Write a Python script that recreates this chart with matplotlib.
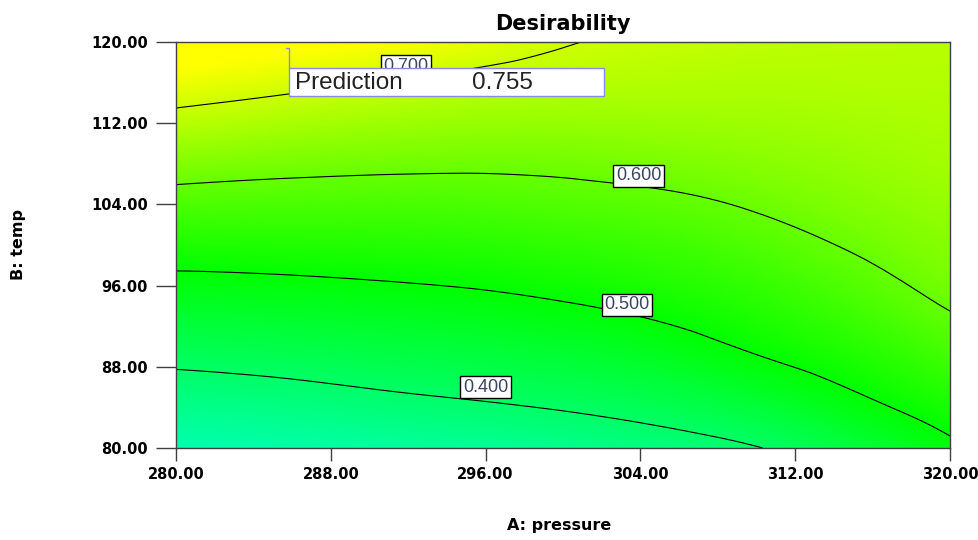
import numpy as np
import matplotlib
matplotlib.use('Agg')
import matplotlib.pyplot as plt
import matplotlib.tri as mtri
from matplotlib.colors import LinearSegmentedColormap
from matplotlib.patches import Rectangle

# A: pressure (columns) and B: temp (rows)
pressure = [280, 285, 290, 295, 300, 305, 310, 315, 320]
temp = [80, 85, 90, 95, 100, 105, 110, 115, 120]

# desirability, one list per temp row
d_80 = [0.330, 0.335, 0.343, 0.352, 0.363, 0.378, 0.398, 0.440, 0.490]
d_85 = [0.374, 0.381, 0.392, 0.402, 0.413, 0.429, 0.456, 0.494, 0.532]
d_90 = [0.422, 0.429, 0.438, 0.447, 0.459, 0.478, 0.507, 0.536, 0.572]
d_95 = [0.473, 0.478, 0.485, 0.493, 0.505, 0.521, 0.543, 0.573, 0.610]
d_100 = [0.529, 0.530, 0.533, 0.537, 0.546, 0.558, 0.578, 0.605, 0.632]
d_105 = [0.588, 0.583, 0.581, 0.581, 0.587, 0.596, 0.612, 0.632, 0.650]
d_110 = [0.654, 0.642, 0.633, 0.628, 0.628, 0.635, 0.643, 0.653, 0.663]
d_115 = [0.719, 0.704, 0.689, 0.677, 0.670, 0.668, 0.667, 0.670, 0.672]
d_120 = [0.780, 0.765, 0.748, 0.728, 0.703, 0.693, 0.685, 0.682, 0.678]

levels = [0.4, 0.5, 0.6, 0.7]
label_spots = [(296.0, 86.0), (303.3, 94.1), (303.9, 106.8), (291.9, 117.6)]

pred_label = 'Prediction'
pred_value = 0.755
pred_point = (285.85, 119.4)

xticks = [280, 288, 296, 304, 312, 320]
yticks = [80, 88, 96, 104, 112, 120]

Z = np.array([d_80, d_85, d_90, d_95, d_100, d_105, d_110, d_115, d_120])
P, T = np.meshgrid(pressure, temp)

# smooth the coarse grid with matplotlib's own cubic refiner
tri = mtri.Triangulation(P.ravel().astype(float), T.ravel().astype(float))
tri_f, z_f = mtri.UniformTriRefiner(tri).refine_field(Z.ravel(), subdiv=4)

cmap = LinearSegmentedColormap.from_list('de', ['#00ffff', '#00ff00', '#ffff00'])

fig = plt.figure(figsize=(9.79, 5.40), dpi=100)
ax = fig.add_axes([0.1798, 0.1704, 0.7906, 0.7518])

ax.tripcolor(tri_f, z_f, shading='gouraud', cmap=cmap, vmin=0.25, vmax=0.75)
ax.tricontour(tri_f, z_f, levels=levels, colors='black', linewidths=0.8)

for lev, (x, y) in zip(levels, label_spots):
    ax.text(x, y, '%.3f' % lev, fontsize=13, family='Liberation Sans', color='#3a4560',
            ha='center', va='center', zorder=4,
            bbox=dict(boxstyle='square,pad=0.14', fc='white', ec='black', lw=1))

# prediction flag
ax.plot([pred_point[0] - 0.15, pred_point[0], pred_point[0]],
        [pred_point[1], pred_point[1], 117.4], color='#8a8ae6', lw=1, zorder=5)
ax.add_patch(Rectangle((285.85, 114.65), 16.25, 2.75, fc='white', ec='#8a8ae6', lw=1, zorder=6))
ax.text(286.15, 116.0, pred_label, fontsize=17.5, family='Liberation Sans',
        color='#222222', va='center', zorder=7)
ax.text(295.3, 116.0, '%.3f' % pred_value, fontsize=17.5, family='Liberation Sans',
        color='#222222', va='center', zorder=7)

ax.set_xlim(280, 320)
ax.set_ylim(80, 120)
ax.set_xticks(xticks)
ax.set_yticks(yticks)
ax.set_xticklabels(['%.2f' % v for v in xticks], fontweight='bold', fontsize=10.5)
ax.set_yticklabels(['%.2f' % v for v in yticks], fontweight='bold', fontsize=10.5)
ax.tick_params(axis='x', length=9, width=1, color='#404040', pad=5)
ax.tick_params(axis='y', length=14.4, width=1, color='#404040', pad=6)
for s in ax.spines.values():
    s.set_color('#404040')
    s.set_linewidth(1)

ax.set_title('Desirability', fontsize=15, fontweight='bold', pad=9)
ax.set_xlabel('A: pressure', fontsize=11.5, fontweight='bold', va='center')
ax.set_ylabel('B: temp', fontsize=11.5, fontweight='bold', va='center')
ax.xaxis.set_label_coords(0.495, -0.192)
ax.yaxis.set_label_coords(-0.203, 0.5)

fig.savefig('out.png', dpi=100)
